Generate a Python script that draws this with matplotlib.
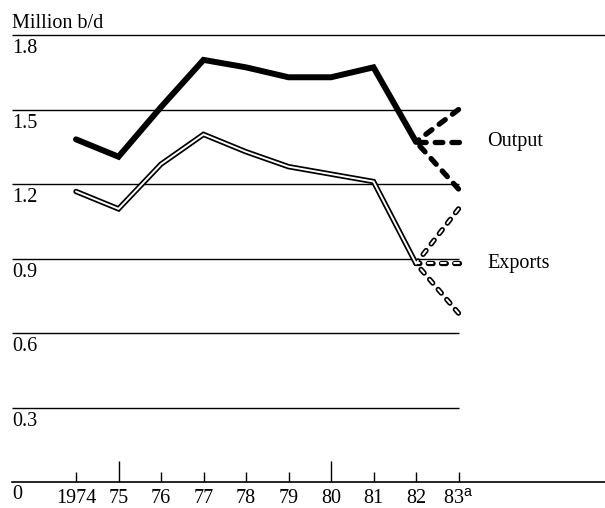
import matplotlib
matplotlib.use("Agg")
import matplotlib.pyplot as plt

plt.rcParams["font.family"] = ["Liberation Serif", "DejaVu Serif"]
plt.rcParams["mathtext.fontset"] = "custom"
plt.rcParams["mathtext.rm"] = "Liberation Sans"
plt.rcParams["lines.scale_dashes"] = False

# data
years = ["1974", "75", "76", "77", "78", "79", "80", "81", "82", "83$^{\\mathrm{a}}$"]
long_ticks = ["75", "80"]
output = [1.38, 1.31, 1.51, 1.70, 1.67, 1.63, 1.63, 1.67, 1.37]
exports = [1.17, 1.10, 1.28, 1.40, 1.33, 1.27, 1.24, 1.21, 0.88]
output_83 = [1.50, 1.37, 1.18]
exports_83 = [1.10, 0.88, 0.68]
grid_vals = [0.3, 0.6, 0.9, 1.2, 1.5]
top_val = 1.8

W, H = 605, 508
fig = plt.figure(figsize=(W / 100, H / 100), dpi=100)
ax = fig.add_axes([12 / W, 26 / H, 593 / W, 482 / H])

x = list(range(len(output)))
x83 = len(output)
ax.set_xlim((12 - 76) / 42.5, (605 - 76) / 42.5)
ax.set_ylim(0, 482 / 248.3)

for s in ["left", "right", "top"]:
    ax.spines[s].set_visible(False)
ax.spines["bottom"].set_linewidth(1.2)
ax.set_yticks([])

# gridlines
x0 = ax.get_xlim()[0]
ax.hlines(grid_vals, x0, x83, colors="black", linewidth=1.0)
ax.hlines([top_val], x0, ax.get_xlim()[1], colors="black", linewidth=1.0)

fs = 14.5
for v in grid_vals + [top_val]:
    ax.annotate(f"{v:.1f}", (0, v), xycoords=("axes fraction", "data"),
                xytext=(0, -3), textcoords="offset points",
                ha="left", va="top", fontsize=fs)
ax.annotate("0", (0, 0), xycoords=("axes fraction", "data"),
            xytext=(0, -2), textcoords="offset points",
            ha="left", va="top", fontsize=fs)
fig.text(12 / W, 1 - 23 / H, "Million b/d", ha="left", va="center", fontsize=fs)

# x ticks
ax.set_xticks(range(len(years)))
ax.set_xticklabels(years, fontsize=fs)
ax.tick_params(axis="x", direction="in", length=7.2, width=1.0, pad=5)
for t, lab in zip(ax.xaxis.get_major_ticks(), years):
    if lab in long_ticks:
        t.tick1line.set_markersize(15)

# output line
ax.plot(x, output, color="black", linewidth=4.3, solid_joinstyle="miter",
        solid_capstyle="round", zorder=5)
# projections drawn from the 1983 end back so every branch ends on a dash
for v in output_83:
    ax.plot([x83, x[-1]], [v, output[-1]], color="black", linewidth=3.8,
            dashes=(5.5, 6.5), dash_capstyle="round", zorder=5)

# exports double line
ax.plot(x, exports, color="black", linewidth=3.9, solid_joinstyle="miter",
        solid_capstyle="round", zorder=5)
ax.plot(x, exports, color="white", linewidth=1.4, solid_joinstyle="miter",
        solid_capstyle="round", zorder=6)
for v in exports_83:
    ax.plot([x83, x[-1]], [v, exports[-1]], color="black", linewidth=3.8,
            dashes=(3.5, 6.0), dash_capstyle="round", zorder=5)
    ax.plot([x83, x[-1]], [v, exports[-1]], color="white", linewidth=1.4,
            dashes=(3.5, 6.0), dash_capstyle="round", zorder=6)

ax.text(x83 + 0.67, output_83[1], "Output", ha="left", va="center", fontsize=fs)
ax.text(x83 + 0.67, exports_83[1], "Exports", ha="left", va="center", fontsize=fs)

fig.savefig("out.png", dpi=100)
